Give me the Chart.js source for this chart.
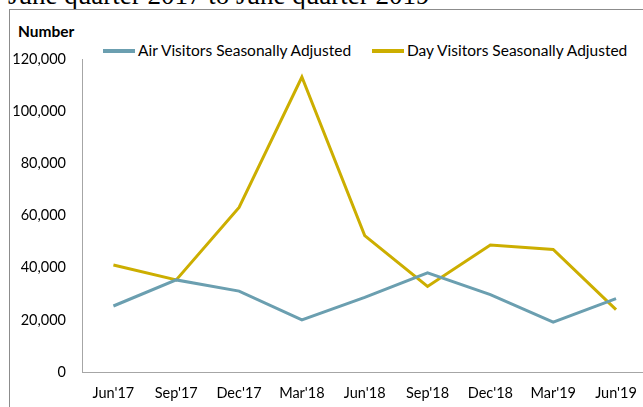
<!DOCTYPE html>
<html>
<head>
<meta charset="utf-8">
<script src="https://cdn.jsdelivr.net/npm/chart.js@4.4.1/dist/chart.umd.min.js"></script>
<style>
  html, body { margin:0; padding:0; width:643px; height:407px; overflow:hidden; background:#fff; }
  #wrap { position:relative; width:643px; height:407px; overflow:hidden; }
  #title { position:absolute; left:8px; top:-18px; font-family:"Liberation Serif","Times New Roman",serif; font-size:27px; line-height:27px; color:#000; white-space:nowrap; }
  #frame { position:absolute; left:9px; top:9px; width:800px; height:600px; border:1px solid #8c8c8c; box-sizing:border-box; }
  #ylab { position:absolute; left:18px; top:22px; font-family:Lato, "Open Sans", sans-serif; font-weight:bold; font-size:15.5px; line-height:18px; color:#000; }
  .leg { position:absolute; top:41px; height:18px; font-family:Lato, "Open Sans", sans-serif; font-size:15.5px; line-height:18px; color:#000; white-space:nowrap; }
  .leg i { display:inline-block; width:32px; height:4px; vertical-align:middle; margin-right:3px; position:relative; top:-1px; }
  #c { position:absolute; left:0; top:0; }
</style>
</head>
<body>
<div id="wrap">
  <div id="title">June quarter 2017 to June quarter 2019</div>
  <div id="frame"></div>
  <div id="ylab">Number</div>
  <div class="leg" id="leg1" style="left:103px"><i style="background:#6b9fb0"></i>Air Visitors Seasonally Adjusted</div>
  <div class="leg" id="leg2" style="left:372px"><i style="background:#ccae00"></i>Day Visitors Seasonally Adjusted</div>
  <div style="position:absolute;left:0;top:0;width:650px;height:407px;">
    <canvas id="c" width="650" height="407"></canvas>
  </div>
</div>
<script>
const categories = ["Jun'17","Sep'17","Dec'17","Mar'18","Jun'18","Sep'18","Dec'18","Mar'19","Jun'19"];
const airVisitors = [25300, 35300, 31000, 20000, 28600, 38000, 29700, 19100, 28100];
const dayVisitors = [41000, 35300, 63100, 113100, 52300, 32800, 48700, 47000, 23900];
const seriesNames = ["Air Visitors Seasonally Adjusted", "Day Visitors Seasonally Adjusted"];
const yTicks = [0, 20000, 40000, 60000, 80000, 100000, 120000];

const xFont = { family: "Lato, 'Open Sans', sans-serif", size: 14.5 };
const yFont = { family: "Lato, 'Open Sans', sans-serif", size: 14.5 };

new Chart(document.getElementById('c'), {
  type: 'line',
  data: {
    labels: categories,
    datasets: [
      { label: seriesNames[0], data: airVisitors, borderColor: '#6b9fb0', backgroundColor: '#6b9fb0', borderWidth: 3, pointRadius: 0, tension: 0, fill: false },
      { label: seriesNames[1], data: dayVisitors, borderColor: '#ccae00', backgroundColor: '#ccae00', borderWidth: 3, pointRadius: 0, tension: 0, fill: false }
    ]
  },
  options: {
    responsive: false,
    animation: false,
    devicePixelRatio: 1,
    layout: { padding: { top: 59, right: 2, bottom: 0, left: 0 } },
    plugins: { legend: { display: false }, tooltip: { enabled: false }, title: { display: false } },
    scales: {
      x: {
        offset: true,
        afterFit: (s) => { s.height = 35; },
        grid: { display: false, drawTicks: false },
        border: { display: true, color: '#a6a6a6', width: 1 },
        ticks: { color: '#000', font: xFont, padding: 13, maxRotation: 0, autoSkip: false }
      },
      y: {
        min: 0, max: 120000,
        afterBuildTicks: (s) => { s.ticks = yTicks.map(v => ({ value: v })); },
        afterFit: (s) => { s.width = 82; },
        grid: { display: false, drawTicks: false },
        border: { display: true, color: '#a6a6a6', width: 1 },
        ticks: { color: '#000', font: yFont, padding: 16, callback: (v) => v.toLocaleString('en-US') }
      }
    }
  }
});
</script>
</body>
</html>
